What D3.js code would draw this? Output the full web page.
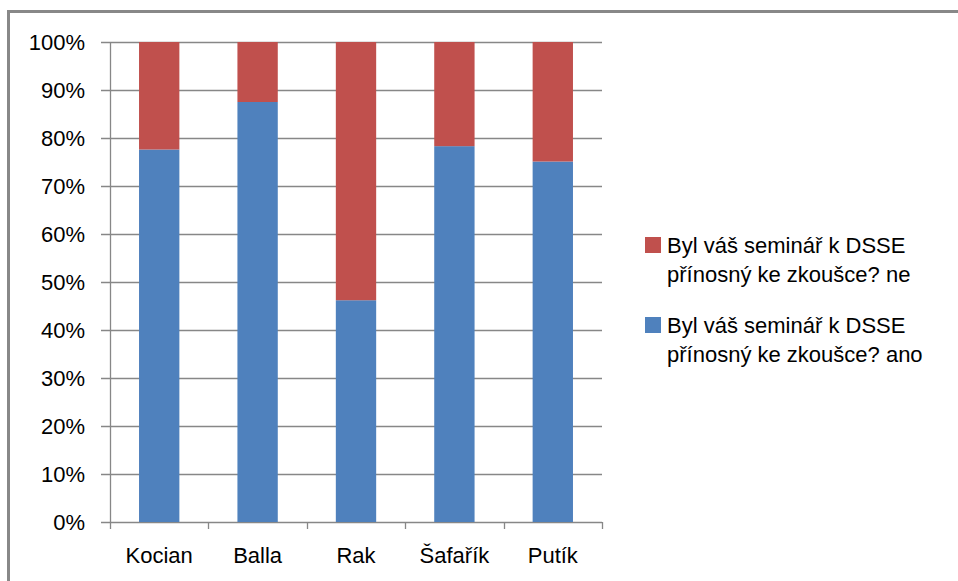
<!DOCTYPE html>
<html>
<head>
<meta charset="utf-8">
<script src="https://cdn.jsdelivr.net/npm/d3@7"></script>
<style>
  body { margin: 0; background: #fff; }
  svg text { font-family: "Liberation Sans", Arial, sans-serif; fill: #000; }
</style>
</head>
<body>
<div id="chart"></div>
<script>
  // Categories (respondent groups by seminar teacher)
  const categories = ['Kocian', 'Balla', 'Rak', 'Šafařík', 'Putík'];
  // Share of answers in percent
  const anoValues = [77.6, 87.5, 46.2, 78.3, 75.1];
  const neValues = [22.4, 12.5, 53.8, 21.7, 24.9];
  const seriesNames = [
    'Byl váš seminář k DSSE přínosný ke zkoušce? ano',
    'Byl váš seminář k DSSE přínosný ke zkoušce? ne'
  ];
  const yTicks = [0, 10, 20, 30, 40, 50, 60, 70, 80, 90, 100];

  const COLORS = { ano: '#4f81bd', ne: '#c0504d' };

  const width = 958, height = 581;
  const margin = { top: 42, right: 356, bottom: 59, left: 110 };
  const plotW = width - margin.left - margin.right;
  const plotH = height - margin.top - margin.bottom;

  const svg = d3.select('#chart').append('svg')
    .attr('width', width)
    .attr('height', height);

  // chart frame (only top and left edges fall inside the picture)
  svg.append('path')
    .attr('d', 'M8.5,600 V11.5 H970')
    .attr('fill', 'none')
    .attr('stroke', '#888')
    .attr('stroke-width', 3);

  const g = svg.append('g')
    .attr('transform', 'translate(' + margin.left + ',' + margin.top + ')');

  const x = d3.scaleBand().domain(categories).range([0, plotW])
    .paddingInner(0.59).paddingOuter(0.295);
  const y = d3.scaleLinear().domain([0, 100]).range([plotH, 0]);

  // gridlines
  g.append('g').selectAll('line')
    .data(yTicks)
    .join('line')
    .attr('x1', -9).attr('x2', plotW)
    .attr('y1', d => Math.round(y(d)) + 0.5).attr('y2', d => Math.round(y(d)) + 0.5)
    .attr('stroke', '#878787')
    .attr('stroke-width', 1.3);

  // stacked bars
  const rows = categories.map((c, i) => ({ cat: c, ano: anoValues[i], ne: neValues[i] }));
  const stack = d3.stack().keys(['ano', 'ne'])(rows);

  g.append('g').selectAll('g')
    .data(stack)
    .join('g')
    .attr('fill', d => COLORS[d.key])
    .selectAll('rect')
    .data(d => d)
    .join('rect')
    .attr('x', d => x(d.data.cat))
    .attr('width', x.bandwidth())
    .attr('y', d => y(d[1]))
    .attr('height', d => y(d[0]) - y(d[1]));

  // y axis
  const yAxis = d3.axisLeft(y)
    .tickValues(yTicks)
    .tickFormat(d => d + '%')
    .tickSize(0)
    .tickPadding(25);
  const yg = g.append('g').call(yAxis);
  yg.select('.domain').remove();
  yg.selectAll('text').attr('font-size', 22).attr('dy', '0.36em');

  g.append('line')
    .attr('x1', 0.5).attr('x2', 0.5)
    .attr('y1', 0).attr('y2', plotH)
    .attr('stroke', '#878787').attr('stroke-width', 1.3);

  // x axis: tick marks sit between categories
  const bounds = categories.map(c => x(c) - x.step() * x.paddingOuter()).concat([plotW]);
  g.append('g').selectAll('line')
    .data(bounds)
    .join('line')
    .attr('x1', d => Math.round(d) + 0.5).attr('x2', d => Math.round(d) + 0.5)
    .attr('y1', plotH).attr('y2', plotH + 7)
    .attr('stroke', '#878787').attr('stroke-width', 1.3);

  const xAxis = d3.axisBottom(x).tickSize(0).tickPadding(25);
  const xg = g.append('g').attr('transform', 'translate(0,' + plotH + ')').call(xAxis);
  xg.select('.domain').remove();
  xg.selectAll('text').attr('font-size', 22).attr('dy', '0.71em');

  // legend (ne on top, ano below)
  const legendItems = [
    { key: 'ne', name: seriesNames[1] },
    { key: 'ano', name: seriesNames[0] }
  ];
  const legend = svg.append('g').attr('transform', 'translate(645,237)');
  const item = legend.selectAll('g')
    .data(legendItems)
    .join('g')
    .attr('transform', (d, i) => 'translate(0,' + i * 80 + ')');

  item.append('rect')
    .attr('width', 16).attr('height', 16)
    .attr('fill', d => COLORS[d.key]);

  item.append('text')
    .attr('x', 22)
    .attr('y', 16)
    .attr('font-size', 22)
    .selectAll('tspan')
    .data(d => {
      const k = d.name.indexOf(' přínosný');
      return [d.name.slice(0, k), d.name.slice(k + 1)];
    })
    .join('tspan')
    .attr('x', 22)
    .attr('dy', (d, i) => i === 0 ? 0 : 29)
    .text(d => d);
</script>
</body>
</html>
